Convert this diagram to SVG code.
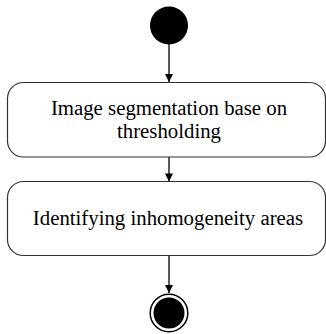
<svg xmlns="http://www.w3.org/2000/svg" width="326" height="334" viewBox="0 0 326 334">
<style>
.node{fill:#fff;stroke:#333;stroke-width:1.2}
.lbl{font-family:"Liberation Serif","Times New Roman",serif;font-size:20.8px;fill:#000;text-anchor:middle}
.edge{stroke:#000;stroke-width:1.3;fill:none}
</style>
<defs>
<marker id="arr" viewBox="0 0 10 10" refX="10" refY="5" markerWidth="10" markerHeight="8" markerUnits="userSpaceOnUse" orient="auto">
<path d="M0,0 L10,5 L0,10 Z" fill="#000"/>
</marker>
</defs>
<rect width="326" height="334" fill="#fff"/>
<g id="connectors">
<line class="edge" x1="169" y1="44" x2="169" y2="82" marker-end="url(#arr)"/>
<line class="edge" x1="169" y1="157" x2="169" y2="181.5" marker-end="url(#arr)"/>
<line class="edge" x1="169" y1="255.5" x2="169" y2="293" marker-end="url(#arr)"/>
</g>
<g id="start">
<circle cx="169" cy="25.5" r="19" fill="#000"/>
</g>
<g id="act1">
<rect class="node" x="7.5" y="82.5" width="318" height="74.5" rx="16" ry="16"/>
<text class="lbl" x="169" y="115">Image segmentation base on</text>
<text class="lbl" x="169" y="138">thresholding</text>
</g>
<g id="act2">
<rect class="node" x="7.5" y="181.5" width="318" height="74" rx="16" ry="16"/>
<text class="lbl" x="168" y="225">Identifying inhomogeneity areas</text>
</g>
<g id="end">
<circle cx="169" cy="313" r="18.8" fill="#fff" stroke="#000" stroke-width="1.5"/>
<circle cx="169" cy="313" r="15.5" fill="#000"/>
</g>
</svg>
